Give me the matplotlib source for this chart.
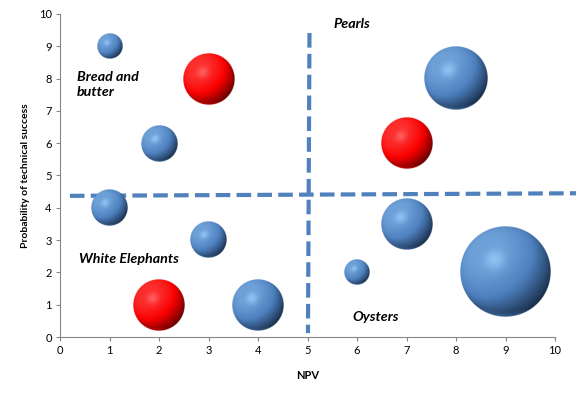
import matplotlib
matplotlib.use("Agg")
import matplotlib.pyplot as plt
import numpy as np

plt.rcParams["font.family"] = ["Lato", "DejaVu Sans"]

# bubble data: NPV, probability of success, bubble size, colour group
npv = [1, 3, 2, 1, 3, 2, 4, 8, 7, 7, 6, 9]
prob = [9, 8, 6, 4, 3, 1, 1, 8, 6, 3.5, 2, 2]
size = [1, 4, 2, 2, 2, 4, 4, 6, 4, 4, 1, 12]
group = ["blue", "red", "blue", "blue", "blue", "red", "blue", "blue", "red", "blue", "blue", "blue"]

# quadrant divider lines
vline_x = [5.04, 5.01]
vline_y = [9.41, 0.12]
hline_x = [0.2, 10.45]
hline_y = [4.37, 4.45]

# quadrant labels
labels = ["Bread and\nbutter", "Pearls", "White Elephants", "Oysters"]
label_x = [0.34, 5.53, 0.38, 5.9]
label_y = [7.82, 9.69, 2.41, 0.62]

# base / shadow / highlight colours of the spheres
palette = {
    "blue": (np.array([0.30, 0.50, 0.74]), np.array([0.05, 0.10, 0.18]), np.array([0.62, 0.82, 1.0])),
    "red": (np.array([0.98, 0.0, 0.0]), np.array([0.25, 0.0, 0.0]), np.array([1.0, 0.45, 0.45])),
}


def sphere_rgba(n, g):
    base, dark, light = palette[g]
    u = np.linspace(-1, 1, n)
    uu, vv = np.meshgrid(u, u)
    rho2 = uu ** 2 + vv ** 2
    w = np.sqrt(np.clip(1 - rho2, 0, 1))
    L = np.array([-0.45, 0.5, 0.74])
    L = L / np.linalg.norm(L)
    ndl = uu * L[0] + vv * L[1] + w * L[2]
    shade = np.clip(0.74 + 0.6 * ndl, 0, 1.3)
    # darken toward the shadow colour, brighten toward highlight
    k = np.clip(shade, 0, 1)[..., None]
    col = dark + (base - dark) * k ** 2.0
    hi = np.clip(shade - 1.0, 0, None)[..., None] / 0.3
    col = col + (light - col) * hi * 0.4
    # soft specular spot
    H = L + np.array([0, 0, 1.0])
    H = H / np.linalg.norm(H)
    spec = np.clip(uu * H[0] + vv * H[1] + w * H[2], 0, 1) ** 40
    col = col + (light - col) * spec[..., None] * 0.7
    # thin reflected rim at the bottom
    rim = np.clip((-vv - 0.8) / 0.2, 0, 1) * np.clip((np.sqrt(rho2) - 0.88) / 0.12, 0, 1)
    col = col + (base * 1.1 - col) * rim[..., None] * 0.6
    col = np.clip(col, 0, 1)
    alpha = np.clip((1 - np.sqrt(rho2)) * n / 2, 0, 1)
    return np.dstack([col, alpha])


fig = plt.figure(figsize=(5.76, 3.99), dpi=100)
ax = fig.add_axes([60 / 576, 62 / 399, 495 / 576, 323 / 399])
ax.set_xlim(0, 10)
ax.set_ylim(0, 10)

ax.plot(vline_x, vline_y, color="#4f81bd", lw=3, ls=(0, (3.5, 1.5)), clip_on=False, zorder=2)
ax.plot(hline_x, hline_y, color="#4f81bd", lw=3, ls=(0, (3.5, 1.5)), clip_on=False, zorder=2)

# bubble area proportional to size (Excel style)
unit = 350.0
for x, y, s, g in zip(npv, prob, size, group):
    r_px = np.sqrt(unit * s) / 2 * fig.dpi / 72
    cx, cy = ax.transData.transform((x, y))
    (x0, y0), (x1, y1) = ax.transData.inverted().transform([(cx - r_px, cy - r_px), (cx + r_px, cy + r_px)])
    n = int(np.ceil(2 * r_px)) * 3
    ax.imshow(sphere_rgba(n, g), extent=(x0, x1, y0, y1), origin="lower",
              aspect="auto", zorder=3, clip_on=False, interpolation="antialiased")

for txt, tx, ty in zip(labels, label_x, label_y):
    ax.text(tx, ty, txt, fontsize=10.3, fontweight="bold", fontstyle="italic",
            ha="left", va="center", linespacing=1.3, zorder=4)

ax.set_xlim(0, 10)
ax.set_ylim(0, 10)
ax.set_xticks(range(0, 11))
ax.set_yticks(range(0, 11))
ax.tick_params(labelsize=8, length=3, color="#868686", pad=3)
for side in ["top", "right"]:
    ax.spines[side].set_visible(False)
for side in ["left", "bottom"]:
    ax.spines[side].set_color("#868686")

ax.set_xlabel("NPV", fontsize=8, fontweight="bold", labelpad=10)
ax.set_ylabel("Probability of technical success", fontsize=7.5, fontweight="bold", labelpad=6)

fig.savefig("out.png", dpi=100)
